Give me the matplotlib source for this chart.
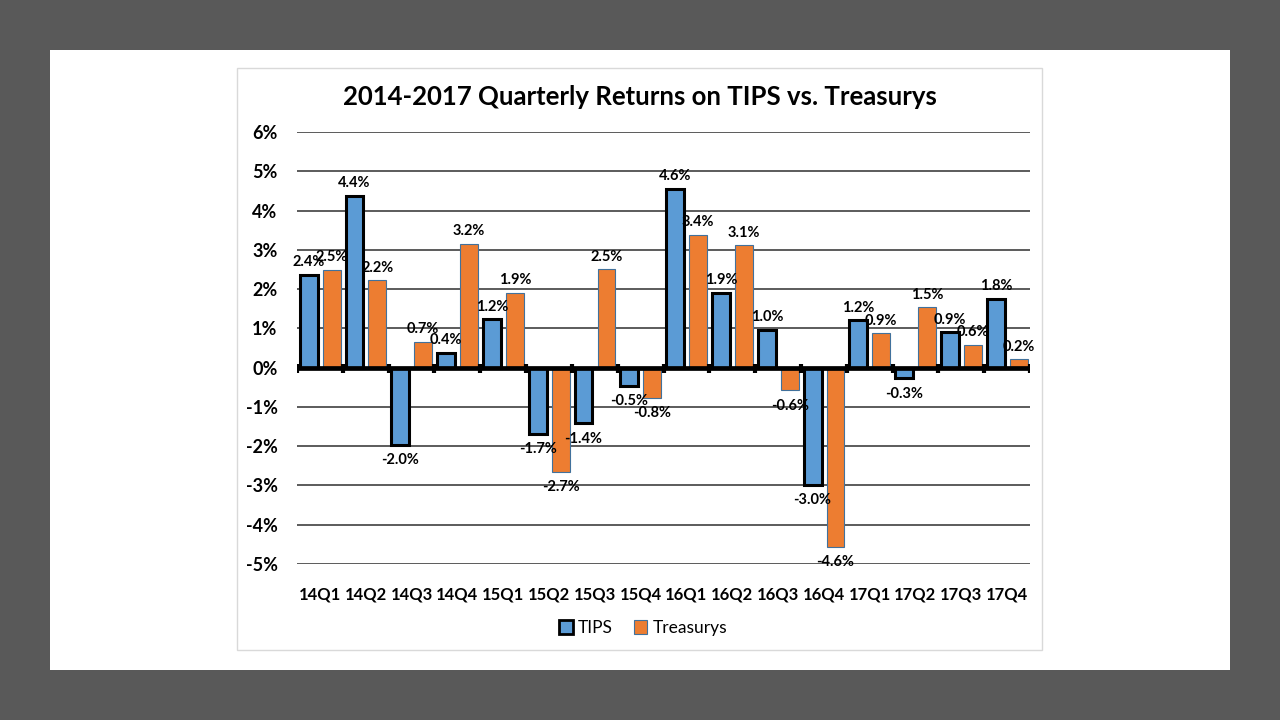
import matplotlib.pyplot as plt
from matplotlib.patches import Rectangle, Patch

quarters = ['14Q1', '14Q2', '14Q3', '14Q4', '15Q1', '15Q2', '15Q3', '15Q4',
            '16Q1', '16Q2', '16Q3', '16Q4', '17Q1', '17Q2', '17Q3', '17Q4']
tips = [2.36, 4.38, -1.97, 0.38, 1.23, -1.68, -1.42, -0.47,
        4.56, 1.90, 0.97, -2.98, 1.21, -0.27, 0.90, 1.76]
treasurys = [2.49, 2.23, 0.66, 3.16, 1.91, -2.66, 2.51, -0.77,
             3.39, 3.11, -0.58, -4.56, 0.87, 1.54, 0.58, 0.21]
y_ticks = [-5, -4, -3, -2, -1, 0, 1, 2, 3, 4, 5, 6]

plt.rcParams['font.family'] = ['Lato', 'DejaVu Sans']

fig = plt.figure(figsize=(12.8, 7.2), dpi=100)
fig.patch.set_facecolor('#595959')

# white slide and chart frame
fig.add_artist(Rectangle((50 / 1280, 50 / 720), 1180 / 1280, 620 / 720,
                         transform=fig.transFigure, facecolor='white', edgecolor='none', zorder=0))
fig.add_artist(Rectangle((237 / 1280, 70 / 720), 805 / 1280, 582 / 720,
                         transform=fig.transFigure, facecolor='white', edgecolor='#d9d9d9',
                         linewidth=1, zorder=0))

ax = fig.add_axes([297 / 1280, 156 / 720, 733 / 1280, 432 / 720])
ax.set_facecolor('none')

x = list(range(len(quarters)))
w = 0.39
x_tips = [i - 0.245 for i in x]
x_tre = [i + 0.255 for i in x]

ax.bar(x_tips, tips, width=w, color='#5b9bd5', edgecolor='black', linewidth=2.2, zorder=3)
ax.bar(x_tre, treasurys, width=w, color='#ed7d31', edgecolor='#41719c', linewidth=0.8, zorder=3)

for xs, vals in ((x_tips, tips), (x_tre, treasurys)):
    for xi, v in zip(xs, vals):
        if v >= 0:
            ax.annotate(f'{v:.1f}%', (xi, v), xytext=(0, 4), textcoords='offset points',
                        ha='center', va='bottom', fontsize=10.5, fontweight='bold', zorder=5)
        else:
            ax.annotate(f'{v:.1f}%', (xi, v), xytext=(0, -6), textcoords='offset points',
                        ha='center', va='top', fontsize=10.5, fontweight='bold', zorder=5)

for t in y_ticks:
    if t != 0:
        ax.axhline(t, color='#3f3f3f', linewidth=1.2, zorder=1)
ax.axhline(0, color='black', linewidth=3.4, zorder=4)
ax.vlines([i - 0.5 for i in range(len(quarters) + 1)], -0.14, 0.1,
          color='black', linewidth=3, zorder=4)

ax.set_xlim(-0.5, len(quarters) - 0.5)
ax.set_ylim(-5, 6)
ax.set_yticks(y_ticks)
ax.set_yticklabels([f'{t}%' for t in y_ticks], fontsize=13, fontweight='bold')
ax.set_xticks(x)
ax.set_xticklabels(quarters, fontsize=12, fontweight='bold')
ax.tick_params(axis='y', length=0, pad=14)
ax.tick_params(axis='x', length=0, pad=16)
for s in ax.spines.values():
    s.set_visible(False)

fig.text(640 / 1280, 1 - 97 / 720, '2014-2017 Quarterly Returns on TIPS vs. Treasurys',
         ha='center', va='center', fontsize=18.5, fontweight='bold')

handles = [Patch(facecolor='#5b9bd5', edgecolor='black', linewidth=2),
           Patch(facecolor='#ed7d31', edgecolor='#41719c', linewidth=0.8)]
fig.legend(handles, ['TIPS', 'Treasurys'], loc='center', bbox_to_anchor=(643 / 1280, 1 - 628 / 720),
           ncol=2, frameon=False, fontsize=12.5, handlelength=0.8, handleheight=0.8,
           handletextpad=0.3, columnspacing=1.2)

fig.savefig('out.png', dpi=100, facecolor=fig.get_facecolor())
